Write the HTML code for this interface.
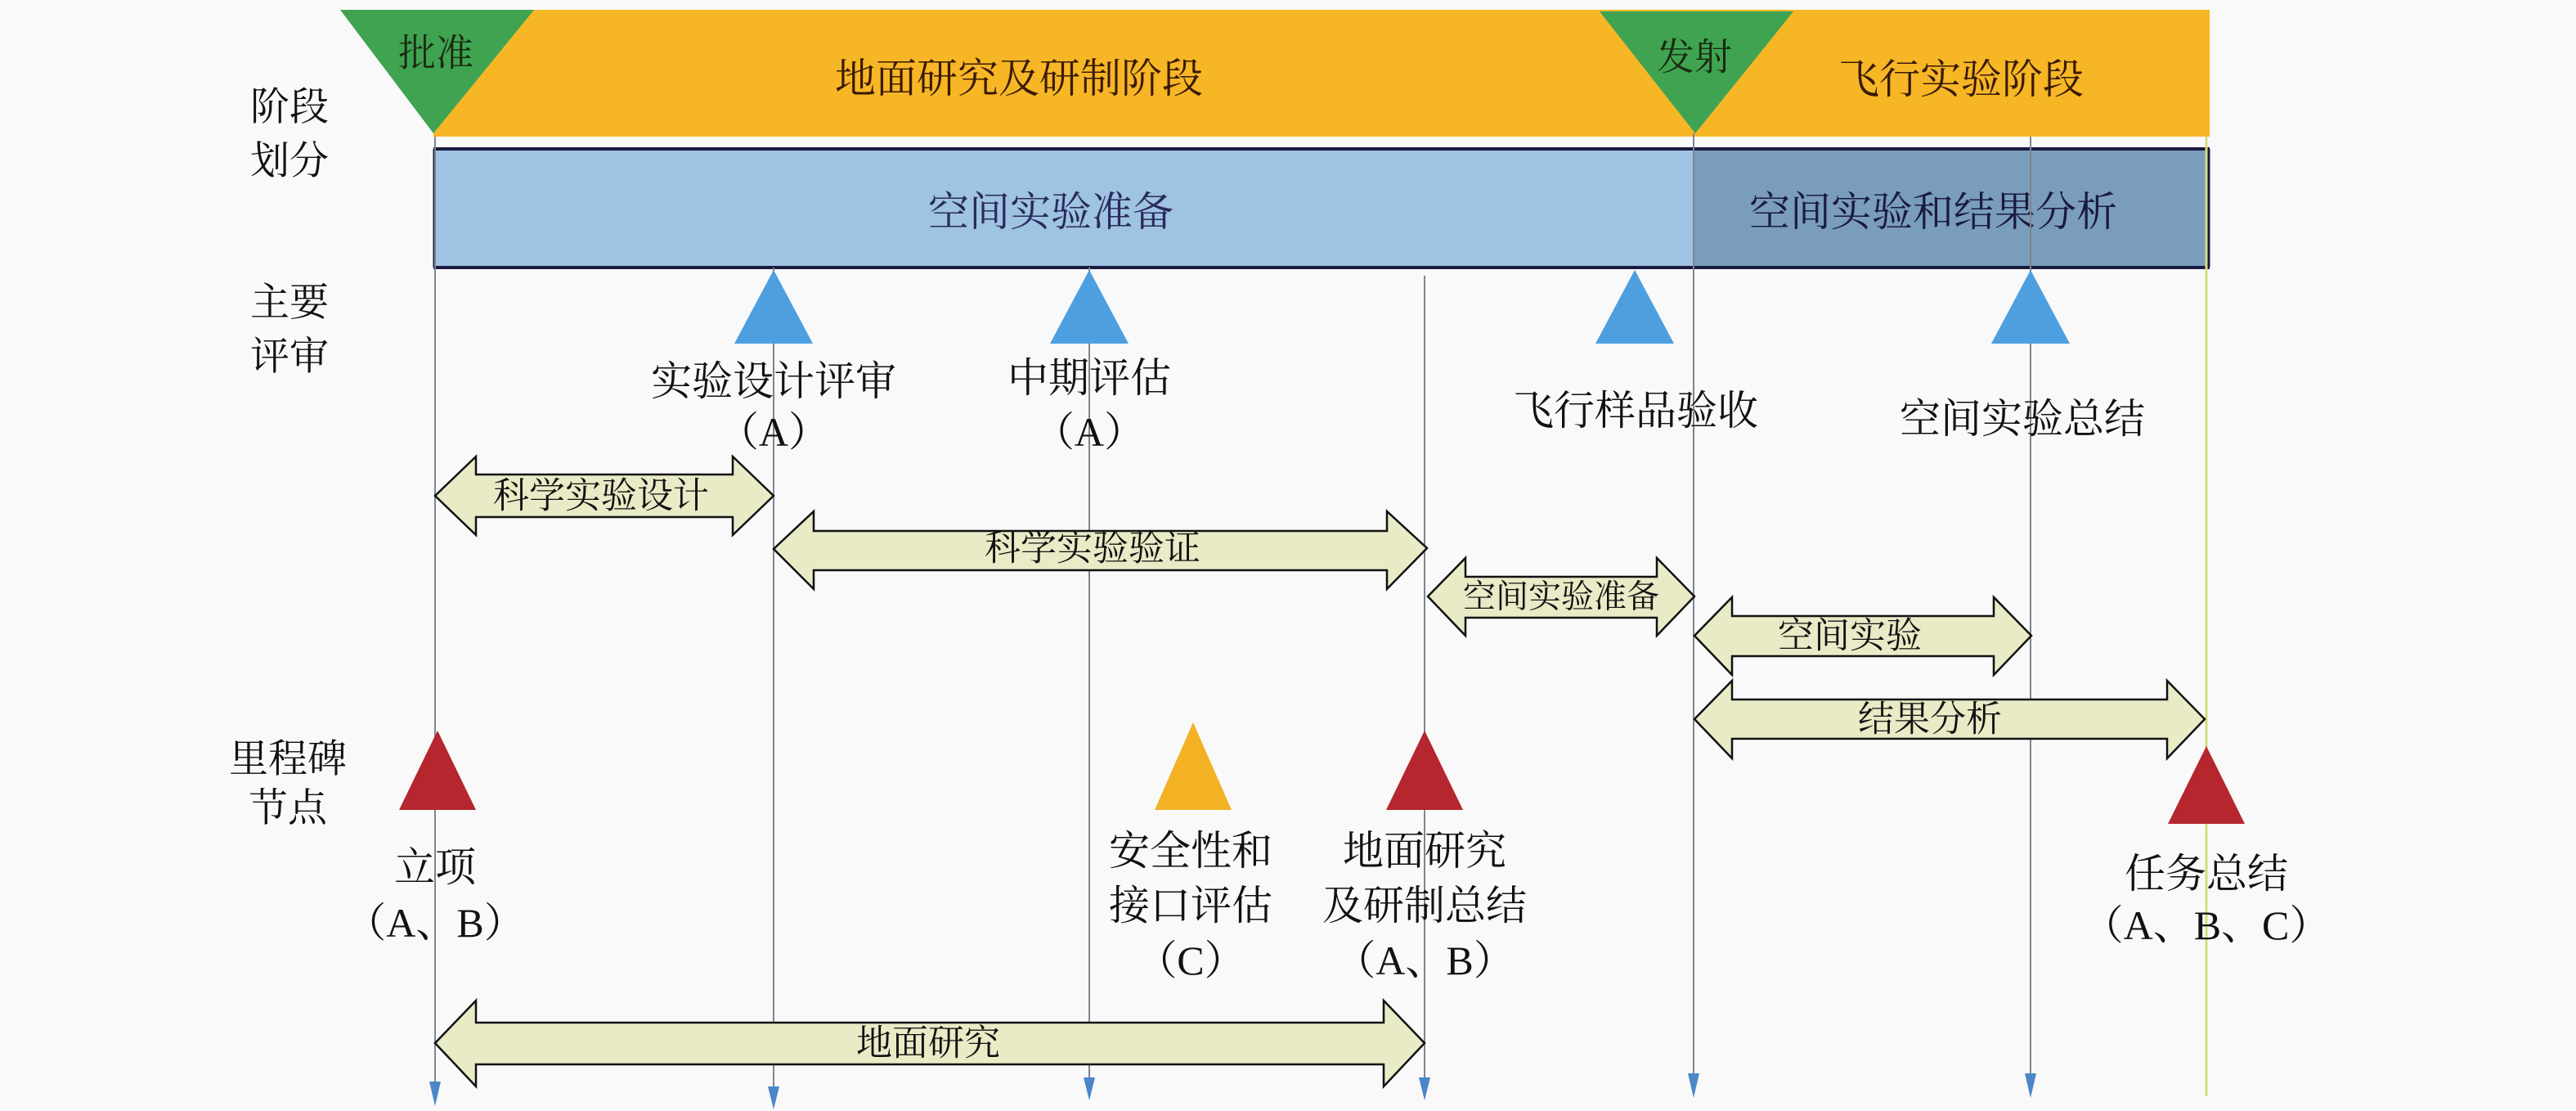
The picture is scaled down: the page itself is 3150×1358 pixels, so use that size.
<!DOCTYPE html>
<html><head><meta charset="utf-8"><style>
html,body{margin:0;padding:0;background:#f9f9f9;}
svg{display:block;}
text{font-family:"Liberation Serif","Noto Serif CJK SC",serif;fill:#111;text-anchor:middle;dominant-baseline:central;}
</style></head><body>
<svg width="3150" height="1358" viewBox="0 0 3150 1358" xmlns="http://www.w3.org/2000/svg">
<rect width="3150" height="1358" fill="#f9f9f9"/>
<!-- orange band -->
<rect x="530" y="12" width="2172" height="155" fill="#f6b626"/>
<!-- green triangles -->
<polygon points="416,12 653,12 530,163" fill="#3fa352"/>
<polygon points="1956,14 2193,14 2073,163" fill="#3fa352"/>
<text x="533" y="65" font-size="46" style="fill:#1a2a10">批准</text>
<text x="1246" y="96" font-size="50" style="fill:#3a1a05">地面研究及研制阶段</text>
<text x="2072" y="70" font-size="46" style="fill:#1a2a10">发射</text>
<text x="2398" y="97" font-size="50" style="fill:#3a1a05">飞行实验阶段</text>
<!-- blue band -->
<rect x="530" y="182" width="1542" height="145" fill="#9fc3e2"/>
<rect x="2072" y="182" width="630" height="145" fill="#7a9dbc"/>
<line x1="530" y1="182" x2="2702" y2="182" stroke="#1a1a40" stroke-width="4"/>
<line x1="530" y1="327" x2="2702" y2="327" stroke="#1a1a40" stroke-width="4"/>
<line x1="531" y1="182" x2="531" y2="327" stroke="#1a1a40" stroke-width="3"/>
<line x1="2701" y1="182" x2="2701" y2="327" stroke="#1a1a40" stroke-width="3"/>
<text x="1285" y="259" font-size="50" style="fill:#2a2a5a">空间实验准备</text>
<text x="2364" y="259" font-size="50" style="fill:#1a1a40">空间实验和结果分析</text>
<!-- left headers -->
<g font-size="48">
<text x="354" y="131">阶段</text>
<text x="354" y="197">划分</text>
<text x="354" y="370">主要</text>
<text x="354" y="436">评审</text>
<text x="352" y="928">里程碑</text>
<text x="352" y="988">节点</text>
</g>
<!-- vertical lines -->
<g stroke="#7d8590" stroke-width="2">
<line x1="532" y1="167" x2="532" y2="1330"/>
<line x1="946" y1="327" x2="946" y2="1335"/>
<line x1="1332" y1="327" x2="1332" y2="1325"/>
<line x1="1742" y1="337" x2="1742" y2="1325"/>
<line x1="2071" y1="163" x2="2071" y2="1320"/>
<line x1="2483" y1="167" x2="2483" y2="1320"/>
</g>
<line x1="2698" y1="167" x2="2698" y2="1340" stroke="#d8dc80" stroke-width="3"/>
<!-- bottom arrowheads -->
<g fill="#4a86c8">
<polygon points="525,1322 539,1322 532,1352"/>
<polygon points="939,1328 953,1328 946,1356"/>
<polygon points="1325,1317 1339,1317 1332,1345"/>
<polygon points="1735,1317 1749,1317 1742,1345"/>
<polygon points="2064,1312 2078,1312 2071,1342"/>
<polygon points="2476,1312 2490,1312 2483,1342"/>
</g>
<!-- review triangles -->
<g fill="#4d9fdf">
<polygon points="946,330 898,420 994,420"/>
<polygon points="1332,330 1284,420 1380,420"/>
<polygon points="1999,330 1951,420 2047,420"/>
<polygon points="2483,330 2435,420 2531,420"/>
</g>
<g font-size="50">
<text x="946" y="466">实验设计评审</text>
<text x="946" y="528">（A）</text>
<text x="1332" y="462">中期评估</text>
<text x="1332" y="528">（A）</text>
<text x="2000" y="502">飞行样品验收</text>
<text x="2473" y="512">空间实验总结</text>
</g>
<!-- double arrows -->
<g fill="#e9eac6" stroke="#111" stroke-width="2.5">
<polygon points="532,606 582,558 582,580 896,580 896,558 946,606 896,654 896,632 582,632 582,654"/>
<polygon points="946,671 995,625 995,649 1696,649 1696,625 1745,670 1696,720 1696,697 995,697 995,720"/>
<polygon points="1746,729 1792,682 1792,705 2026,705 2026,682 2072,729 2026,777 2026,755 1792,755 1792,777"/>
<polygon points="2072,777 2118,730 2118,753 2438,753 2438,730 2484,777 2438,825 2438,802 2118,802 2118,825"/>
<polygon points="2072,879 2118,832 2118,855 2650,855 2650,832 2696,879 2650,927 2650,903 2118,903 2118,927"/>
<polygon points="532,1275 582,1223 582,1250 1692,1250 1692,1223 1742,1275 1692,1328 1692,1301 582,1301 582,1328"/>
</g>
<g font-size="44">
<text x="735" y="606">科学实验设计</text>
<text x="1336" y="670">科学实验验证</text>
<text x="1909" y="729" font-size="40">空间实验准备</text>
<text x="2262" y="777">空间实验</text>
<text x="2360" y="879">结果分析</text>
<text x="1135" y="1275">地面研究</text>
</g>
<!-- milestone triangles -->
<polygon points="535,893 488,990 582,990" fill="#b5262e"/>
<polygon points="1459,883 1412,990 1506,990" fill="#f2b224"/>
<polygon points="1742,893 1695,990 1789,990" fill="#b5262e"/>
<polygon points="2698,912 2651,1007 2745,1007" fill="#b5262e"/>
<g font-size="50">
<text x="532" y="1060">立项</text>
<text x="532" y="1128">（A、B）</text>
<text x="1456" y="1040">安全性和</text>
<text x="1456" y="1107">接口评估</text>
<text x="1456" y="1174">（C）</text>
<text x="1742" y="1040">地面研究</text>
<text x="1742" y="1107">及研制总结</text>
<text x="1742" y="1174">（A、B）</text>
<text x="2698" y="1068">任务总结</text>
<text x="2698" y="1131">（A、B、C）</text>
</g>
</svg>
</body></html>
